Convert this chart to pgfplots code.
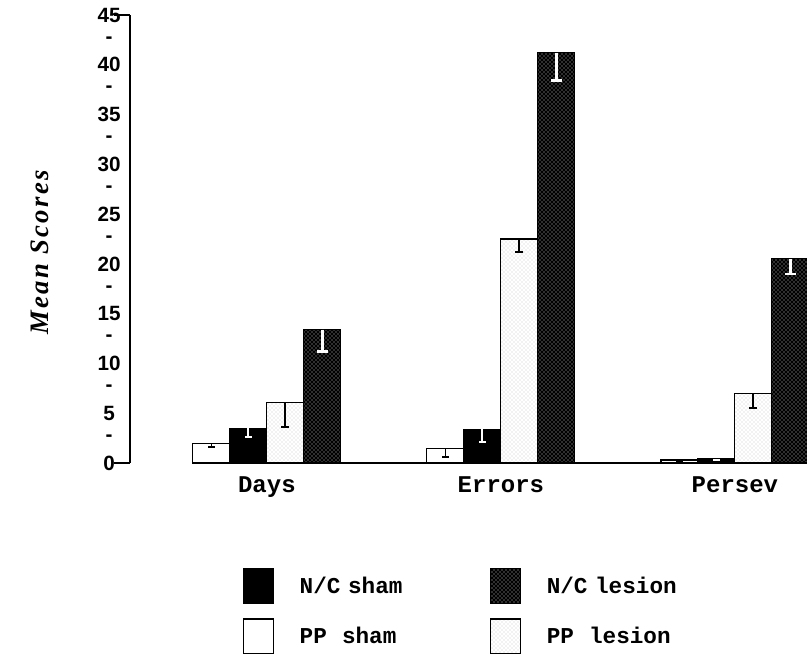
\documentclass[border=0pt]{standalone}
\usepackage{pgfplots}
\pgfplotsset{compat=1.18}
\usetikzlibrary{patterns}
\usepackage{fontspec}
\setmainfont{Liberation Serif}
\setmonofont{Liberation Mono}
\newfontfamily\tickfont{Liberation Sans}
\newfontfamily\labelfont{Liberation Serif}[LetterSpace=9]

% scores per group: Days, Errors, Persev (value, standard error)
\pgfplotstableread{
x  y     e
0  2.0   0.4
1  1.5   0.9
2  0.3   0.1
}\ppsham
\pgfplotstableread{
x  y     e
0  3.5   0.9
1  3.4   1.3
2  0.4   0.1
}\ncsham
\pgfplotstableread{
x  y     e
0  6.1   2.5
1  22.5  1.3
2  7.0   1.5
}\pplesion
\pgfplotstableread{
x  y     e
0  13.4  2.2
1  41.2  2.8
2  20.5  1.5
}\nclesion

\tikzset{
  ppshamstyle/.style={fill=white, draw=black, line width=0.8pt},
  ncshamstyle/.style={fill=black, draw=black, line width=0.8pt},
  pplesionstyle/.style={fill=white, draw=black, line width=0.8pt,
    postaction={pattern=crosshatch dots, pattern color=black!22}},
  nclesionstyle/.style={fill=black, draw=black, line width=0.8pt,
    postaction={pattern=crosshatch dots, pattern color=white!80!black}},
}

\begin{document}
\begin{tikzpicture}
\path[use as bounding box] (-97.5pt,-144.75pt) rectangle (507.75pt,347.25pt);
\begin{axis}[
  at={(0,0)}, anchor=south west,
  scale only axis,
  width=507.75pt, height=336pt,
  xmin=-0.585, xmax=2.308,
  ymin=0, ymax=45,
  clip=false,
  ybar, bar width=0.158,
  axis lines*=left,
  x axis line style={draw=none},
  y axis line style={line width=1.2pt},
  xtick={0,1,2},
  xticklabels={Days,Errors,Persev},
  xtick style={draw=none},
  xticklabel style={font=\fontsize{18}{21}\selectfont\ttfamily\bfseries, yshift=-7pt},
  ytick={0,2.5,...,45},
  yticklabels={0,-,5,-,10,-,15,-,20,-,25,-,30,-,35,-,40,-,45},
  major tick length=0pt,
  /pgf/number format/assume math mode=true,
  yticklabel style={font=\fontsize{15.5}{18}\selectfont\tickfont\bfseries,
    text width=23pt, align=center, inner sep=0pt, xshift=-4pt},
  extra y ticks={0,45},
  extra y tick labels={},
  extra y tick style={tick align=outside, major tick length=12pt,
    tick style={draw=black, line width=1.2pt}},
  ylabel={Mean Scores},
  ylabel style={at={(axis description cs:-0.133,0.47)}, anchor=center,
    font=\fontsize{20}{24}\selectfont\labelfont\bfseries\itshape},
  legend image code/.code={\draw[#1] (0pt,-13pt) rectangle (22.5pt,13pt);},
  legend columns=2,
  legend style={draw=none, fill=none, inner sep=0pt,
    at={(axis description cs:0.167,-0.234)}, anchor=north west,
    font=\fontsize{17}{20}\selectfont\ttfamily\bfseries,
    row sep=11pt,
    nodes={text width=118pt, align=left, inner sep=2pt},
    /tikz/every odd column/.append style={column sep=17pt},
    /tikz/every even column/.append style={column sep=23pt}},
  legend cell align=left,
]
\addplot[ppshamstyle, forget plot, bar shift=-0.237,
  error bars/.cd, y dir=minus, y explicit,
  error mark=|, error mark options={black, mark size=2.5pt, line width=1.4pt},
  error bar style={black, line width=1.3pt}]
  table[x=x, y=y, y error=e] {\ppsham};
\addplot[ncshamstyle, forget plot, bar shift=-0.079,
  error bars/.cd, y dir=minus, y explicit,
  error mark=|, error mark options={white, mark size=2.5pt, line width=1.6pt},
  error bar style={white, line width=1.6pt}]
  table[x=x, y=y, y error=e] {\ncsham};
\addplot[pplesionstyle, forget plot, bar shift=0.079,
  error bars/.cd, y dir=minus, y explicit,
  error mark=|, error mark options={black, mark size=3pt, line width=1.6pt},
  error bar style={black, line width=1.4pt}]
  table[x=x, y=y, y error=e] {\pplesion};
\addplot[nclesionstyle, forget plot, bar shift=0.237,
  error bars/.cd, y dir=minus, y explicit,
  error mark=|, error mark options={white, mark size=4pt, line width=2pt},
  error bar style={white, line width=2.5pt}]
  table[x=x, y=y, y error=e] {\nclesion};

% baseline under the bar groups
\draw[line width=1.1pt] (axis cs:-0.318,0) -- (axis cs:2.308,0);

\addlegendimage{ncshamstyle}
\addlegendentry{N/C sham}
\addlegendimage{nclesionstyle}
\addlegendentry{N/C lesion}
\addlegendimage{ppshamstyle}
\addlegendentry{PP\ \ sham}
\addlegendimage{pplesionstyle}
\addlegendentry{PP\ \ lesion}
\end{axis}
\end{tikzpicture}
\end{document}
